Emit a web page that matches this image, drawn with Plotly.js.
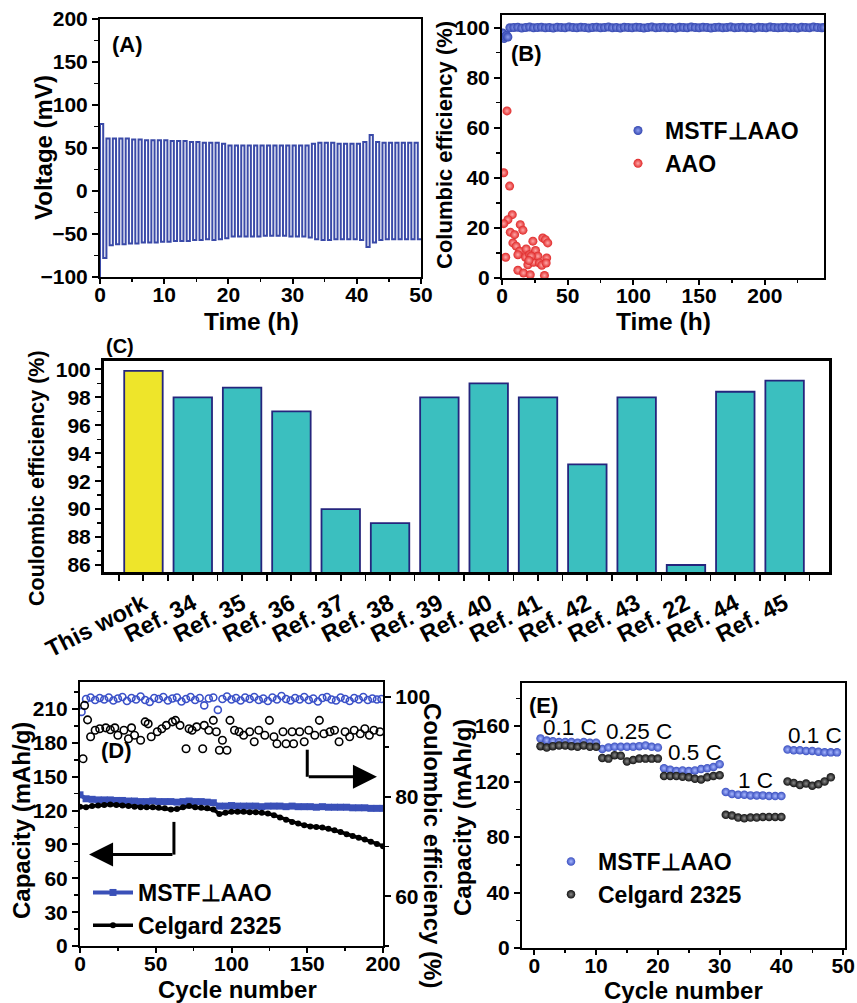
<!DOCTYPE html>
<html><head><meta charset="utf-8">
<script src="https://cdn.plot.ly/plotly-3.0.1.min.js"></script>
<style>html,body{margin:0;padding:0;background:#fff}#chart{width:857px;height:1003px}</style>
</head><body><div id="chart"></div>
<script>
// ---------- Panel A: voltage profile (per 1 h cycle: + plateau then - plateau) ----------
const cycleStartV = -130;
const posV = [78,61,61,61,61,60,60,59,59,59, 59,58,58,58,57,57,56,56,56,55, 53,53,53,53,53,53,53,53,53,53, 53,53,53,55,56,56,56,55,55,55, 55,57,65,57,56,56,56,56,56,56];
const negV = [78,63,62,62,61,61,60,60,60,59, 59,58,58,58,57,57,56,57,56,55, 53,53,53,53,53,52,52,52,52,53, 53,53,54,56,57,57,56,56,56,56, 57,65,60,57,56,56,56,56,56,56];

// ---------- Panel B: Columbic efficiency vs time ----------
const mstfT = [0.5,1.5,2.5,3.5,4.5, 6,9,12,15,18,21,24,27,30,33, 36,39,42,45,48,51,54,57,60,63, 66,69,72,75,78,81,84,87,90,93, 96,99,102,105,108,111,114,117,120,123, 126,129,132,135,138,141,144,147,150,153, 156,159,162,165,168,171,174,177,180,183, 186,189,192,195,198,201,204,207,210,213, 216,219,222,225,228,231,234,237,240,243, 245];
const mstfCE = [97.8,95.6,96.4,96.8,96.2,
  99.9,100,100.1,99.8,100,100.2,99.9,100,100.1,99.9,
  100,99.8,100.1,100,99.9,100.2,100,99.9,100.1,100,
  99.8,100,100.1,99.9,100,100.2,99.9,100,99.8,100.1,
  100,99.9,100.1,100,99.8,100,100.2,99.9,100,100.1,
  99.9,100,99.8,100.1,100,99.9,100.2,100,99.9,100.1,
  100,99.8,100,100.1,99.9,100,100.2,99.9,100,100.1,
  99.9,100,99.8,100.1,100,99.9,100.2,100,99.9,100,
  100.1,99.9,100,99.8,100.1,100,99.9,100.2,100,99.9,
  100];
const aaoT = [1.3,3.8,5.8,7.8,4.5,1.3,2.8,6.3,9.6,8.3,10.8,13.9,15.9,13.4,12.1,12.1,16.4,18.4,17.9,19.7,21.5,21,23.5,24,25.5,27.3,28.5,30.3,31,33,34.8,32.3,34,33.6,22.2,20.5];
const aaoCE = [42,66.7,36.7,25.3,23.3,21.7,8.3,18.3,17.3,14,12.7,21.3,19.1,10.7,9.3,3.1,2,11.6,8.3,5.3,1.3,9.3,14.7,6.3,11,8.7,6,5.1,16,15.3,14,1,8,6,8.7,7];

// ---------- Panel C: Coulombic efficiency comparison ----------
const refLabels = ["This work","Ref. 34","Ref. 35","Ref. 36","Ref. 37","Ref. 38","Ref. 39","Ref. 40","Ref. 41","Ref. 42","Ref. 43","Ref. 22","Ref. 44","Ref. 45"];
const refCE = [99.9,98.0,98.7,97.0,90.0,89.0,98.0,99.0,98.0,93.2,98.0,86.0,98.4,99.2];

// ---------- Panel D: cycling at fixed rate ----------
const capCycles = [0,4,8,12,16,20,24,28,32,36,40,44,48,52,56,60,64,68,72,76,80,84,88,92,96,100,104,108,112,116,120,124,128,132,136,140,144,148,152,156,160,164,168,172,176,180,184,188,192,196,200];
const capMSTF = [134,130.5,130,129.5,129.5,129.5,129,129,128.5,128.5, 128,128,128.5,128,128,128,127.5,128,128.5,128, 128,127.5,127,124,124,124.5,124,124,124,124, 123.5,124,124,124,123.5,124,123.5,123.5,123.5,123, 123.5,123,123,123,123,122.5,122.5,122.5,122,122,122];
const capCelgard = [123.5,123,124,124.5,125,125.5,125,124.5,124,123.5, 123,123,123,122.5,122,121,121.5,123,124,123, 122.5,122,121,117,118,119,119,119,118.5,118.5, 118,117.5,116,114,112,110,108.5,107,106,105.5, 105,104,102.5,101,99,97.5,96,94.5,92.5,90.5,88.5];
const ceCyclesMSTF = [1,4,7,10,13,16,19,22,25,28,31,34,37,40,43,46,49,52,55,58,61,64,67,70,73,76,79,82,85,88,91,94,97,100,103,106,109,112,115,118,121,124,127,130,133,136,139,142,145,148,151,154,157,160,163,166,169,172,175,178,181,184,187,190,193,196,199];
const ceMSTF = [97.0,99.6,99.9,99.4,99.8,99.5,99.9,99.3,99.7,100.0, 99.2,99.8,99.5,100.1,99.4,99.0,99.8,99.6,100.0,99.3, 99.7,99.9,99.1,99.6,100.0,99.4,99.8,98.3,99.7,99.9, 97.4,99.6,100.1,99.5,99.8,99.3,99.9,99.6,100.0,99.4, 99.7,99.2,99.9,99.5,100.2,99.6,99.3,99.8,99.5,100.0, 99.4,99.7,99.1,99.8,100.0,99.5,99.3,99.9,99.6,99.2, 99.8,99.5,100.0,99.4,99.7,99.5,99.6];
const ceCyclesCelgard = [2,3,5,7,10,13,17,20,23,25,29,32,34,36,40,43,45,47,51,54,57,61,63,66,70,72,74,77,81,82,85,88,90,92,94,97,99,102,105,108,112,115,118,122,125,128,130,134,136,140,141,145,148,151,155,158,161,165,168,171,175,178,181,185,188,191,194,198];
const ceCelgard = [87.6,98.3,95.4,92,93.3,93.6,93.8,93.4,93.8,92.3, 93.3,91.6,93.8,92.3,91.3,95,94.6,92,93,93.6, 94.3,95,95.3,94.3,89.6,93.6,93.3,94,89.6,94.3, 93.3,95.3,93,89.3,91.3,89.3,95.3,93.3,93,92.3, 93,91,93.3,92.3,95.3,92,90.6,93,90.6,93, 90.6,93,91,93.3,92.3,95.3,92.6,93,93.3,91, 93,92,93.3,92.6,93.6,92.3,93.3,93];

// ---------- Panel E: rate capability ----------
const rateCyclesMSTF = [1,2,3,4,5,6,7,8,9,10,11,12,13,14,15,16,17,18,19,20,21,22,23,24,25,26,27,28,29,30,31,32,33,34,35,36,37,38,39,40,41,42,43,44,45,46,47,48,49];
const rateMSTF = [151,149.5,149,148.5,148.5,148.5,148,148.5,148,148, 143.5,144.5,145,145,145,145,145.5,146,145,144.5, 129.5,128.5,127.5,128,127.5,128,129,129.5,130.5,132.5, 112.5,111,110.5,110.5,110,110,110,109.5,109.5,109.5, 143,142.5,142.5,142,142,141.5,141,141,141];
const rateCyclesCelgard = [1,2,3,4,5,6,7,8,9,10,11,12,13,14,15,16,17,18,19,20,21,22,23,24,25,26,27,28,29,30,31,32,33,34,35,36,37,38,39,40,41,42,43,44,45,46,47,48];
const rateCelgard = [145.5,144.5,145.5,146,146,145.5,145,146,145,145, 137,136.5,139,138.5,134.5,135.5,136.5,136.5,136.5,136.5, 124,124,124,123.5,123,122,121.5,123,124,124.5, 96,95.5,94,93.5,94,94,94.5,94.5,94.5,94.5, 120,119,117.5,118.5,117,118,120,123];
const rateLabels = ["0.1 C","0.25 C","0.5 C","1 C","0.1 C"];

// ---------------------------------------------------------------------------
const F = 'Arial, "Liberation Sans", Helvetica, sans-serif';
const W = 857, H = 1003;
const px = v => v / W, py = v => 1 - v / H;
const BLUE = '#3a4aa8', RED = '#e02828', TEAL = '#3bbfbf', YEL = '#eee52a';

// build square wave for panel A
const waveT = [0], waveV = [cycleStartV];
posV.forEach((p, i) => {
  waveT.push(i, i + 0.5, i + 0.5, i + 1);
  waveV.push(p, p, -negV[i], -negV[i]);
});

const tf = (s, w) => ({family: F, size: s, color: 'black', weight: w || 'bold'});
function ax(extra) {
  return Object.assign({
    showline: true, linewidth: 2, linecolor: 'black', mirror: true,
    ticks: 'outside', ticklen: 6, tickwidth: 2, tickcolor: 'black',
    showgrid: false, zeroline: false,
    tickfont: tf(21)
  }, extra);
}
const xax = (extra) => ax(Object.assign({ticklen: 5, ticklabelstandoff: -7}, extra));
function minor(d, len) { return {dtick: d, ticks: 'outside', ticklen: len || 4, tickwidth: 1.5, tickcolor: 'black', showgrid: false}; }

const ball = (c, g, s) => ({color: c, size: s, gradient: {type: 'radial', color: g}, line: {width: 0}});

const traces = [
  // A
  {type: 'scatter', mode: 'lines', x: waveT, y: waveV, xaxis: 'x', yaxis: 'y', line: {color: BLUE, width: 2}, showlegend: false},
  // B
  {type: 'scatter', mode: 'markers', name: 'MSTF⊥AAO', x: mstfT, y: mstfCE, xaxis: 'x2', yaxis: 'y2', marker: ball('#3346b0', '#8e9fef', 9), legend: 'legend'},
  {type: 'scatter', mode: 'markers', name: 'AAO', x: aaoT, y: aaoCE, xaxis: 'x2', yaxis: 'y2', marker: ball(RED, '#ffa8a8', 9), legend: 'legend'},
  // C
  {type: 'bar', x: refLabels.map((_, i) => i), y: refCE, xaxis: 'x3', yaxis: 'y3', width: 0.78,
   marker: {color: refLabels.map((_, i) => i === 0 ? YEL : TEAL), line: {color: '#25257d', width: 1.8}}, showlegend: false},
  // D capacity
  {type: 'scatter', mode: 'lines+markers', name: 'MSTF⊥AAO', x: capCycles, y: capMSTF, xaxis: 'x4', yaxis: 'y4',
   line: {color: '#3a50b8', width: 4}, marker: {symbol: 'square', size: 7, color: '#3a50b8'}, legend: 'legend2'},
  {type: 'scatter', mode: 'lines+markers', name: 'Celgard 2325', x: capCycles, y: capCelgard, xaxis: 'x4', yaxis: 'y4',
   line: {color: 'black', width: 3.5}, marker: {symbol: 'circle', size: 6, color: 'black'}, legend: 'legend2'},
  // D CE
  {type: 'scatter', mode: 'markers', x: ceCyclesMSTF, y: ceMSTF, xaxis: 'x4', yaxis: 'y5', showlegend: false,
   marker: {symbol: 'circle-open', size: 7, color: '#3a50c8', line: {width: 1.6}}},
  {type: 'scatter', mode: 'markers', x: ceCyclesCelgard, y: ceCelgard, xaxis: 'x4', yaxis: 'y5', showlegend: false,
   marker: {symbol: 'circle-open', size: 7.5, color: 'black', line: {width: 1.6}}},
  // E
  {type: 'scatter', mode: 'markers', name: 'MSTF⊥AAO', x: rateCyclesMSTF, y: rateMSTF, xaxis: 'x5', yaxis: 'y6', marker: ball('#3a4fc0', '#a8b8ff', 8.5), legend: 'legend3'},
  {type: 'scatter', mode: 'markers', name: 'Celgard 2325', x: rateCyclesCelgard, y: rateCelgard, xaxis: 'x5', yaxis: 'y6', marker: ball('#111111', '#8a8a8a', 8.5), legend: 'legend3'}
];

const ann = (text, x, y, size, angle) => ({text, x: px(x), y: py(y), xref: 'paper', yref: 'paper', showarrow: false,
  xanchor: 'center', yanchor: 'middle', textangle: angle || 0, font: tf(size)});

const annotations = [
  // axis titles
  ann('Voltage (mV)', 44, 148, 24, -90),
  ann('Time (h)', 252, 321, 24.5),
  ann('Columbic efficiency (%)', 444, 145, 22, -90),
  ann('Time (h)', 663, 321, 24.5),
  ann('Coulombic efficiency (%)', 37, 478, 21.5, -90),
  ann('Capacity (mAh/g)', 21, 821, 24, -90),
  ann('Cycle number', 237, 989, 24),
  ann('Coulombic efficiency (%)', 433, 845, 24, 90),
  ann('Capacity (mAh/g)', 462, 817, 24, -90),
  ann('Cycle number', 683, 990, 24),
  // panel labels
  ann('(A)', 128, 44, 22),
  ann('(B)', 526, 54, 22),
  ann('(C)', 120, 346, 20),
  ann('(D)', 116, 750, 22),
  ann('(E)', 543, 705, 22),
];
// rate labels (panel E)
[[5.7,159],[17,156],[26,141],[35.8,121],[45.4,153]].forEach((p, i) => annotations.push({
  text: rateLabels[i], x: p[0], y: p[1], xref: 'x5', yref: 'y6', showarrow: false, font: tf(22.5, 'normal'), xanchor: 'center', yanchor: 'middle'}));
// arrows (panel D)
annotations.push({x: 6, y: 81, ax: 62, ay: 81, xref: 'x4', yref: 'y4', axref: 'x4', ayref: 'y4', text: '', showarrow: true,
  arrowhead: 2, arrowsize: 1.6, arrowwidth: 3, arrowcolor: 'black'});
annotations.push({x: 196, y: 150, ax: 150, ay: 150, xref: 'x4', yref: 'y4', axref: 'x4', ayref: 'y4', text: '', showarrow: true,
  arrowhead: 2, arrowsize: 1.6, arrowwidth: 3, arrowcolor: 'black'});

const shapes = [
  {type: 'line', xref: 'x4', yref: 'y4', x0: 62, x1: 62, y0: 110, y1: 81, line: {color: 'black', width: 3}},
  {type: 'line', xref: 'x4', yref: 'y4', x0: 150, x1: 150, y0: 174, y1: 150, line: {color: 'black', width: 3}}
];

const lg = (x, y, w) => ({x: px(x), y: py(y), xanchor: 'left', yanchor: 'top', font: tf(23), bgcolor: 'rgba(0,0,0,0)', itemwidth: w, tracegroupgap: 0});

const layout = {
  width: W, height: H, margin: {l: 0, r: 0, t: 0, b: 0},
  paper_bgcolor: 'white', plot_bgcolor: 'white',
  font: {family: F, color: 'black'},
  xaxis: xax({domain: [px(100), px(421)], anchor: 'y', range: [0, 50], dtick: 10, minor: minor(5, 3)}),
  yaxis: ax({domain: [py(277), py(19)], anchor: 'x', range: [-100, 200], dtick: 50, minor: minor(25)}),
  xaxis2: xax({domain: [px(502), px(824)], anchor: 'y2', range: [0, 245], dtick: 50, minor: minor(25, 3)}),
  yaxis2: ax({domain: [py(278), py(15)], anchor: 'x2', range: [0, 105], dtick: 20, minor: minor(10)}),
  xaxis3: ax({domain: [px(104), px(829)], anchor: 'y3', range: [-0.8, 13.9], tickmode: 'array',
    tickvals: refLabels.map((_, i) => i), ticktext: refLabels, tickangle: -27, linewidth: 3,
    minor: minor(0.5, 6), tickfont: tf(23.5)}),
  yaxis3: ax({domain: [py(572), py(361)], anchor: 'x3', range: [85.5, 100.6], dtick: 2, minor: minor(1), linewidth: 3, tickfont: tf(21)}),
  xaxis4: xax({domain: [px(80), px(383)], anchor: 'y4', range: [0, 200], dtick: 50, minor: minor(25, 3)}),
  yaxis4: ax({domain: [py(946), py(682)], anchor: 'x4', range: [0, 234], dtick: 30, minor: minor(15)}),
  yaxis5: ax({overlaying: 'y4', side: 'right', anchor: 'x4', range: [50, 103], dtick: 20, minor: minor(10), mirror: false}),
  xaxis5: xax({domain: [px(522), px(845)], anchor: 'y6', range: [-2, 50.3], dtick: 10, minor: minor(5, 3)}),
  yaxis6: ax({domain: [py(948), py(683)], anchor: 'x5', range: [0, 191], dtick: 40, minor: minor(20)}),
  legend: lg(611, 109, 44),
  legend2: lg(88, 871, 40),
  legend3: lg(544, 840, 44),
  annotations, shapes,
  bargap: 0
};

Plotly.newPlot('chart', traces, layout, {displayModeBar: false, staticPlot: true});
</script></body></html>
